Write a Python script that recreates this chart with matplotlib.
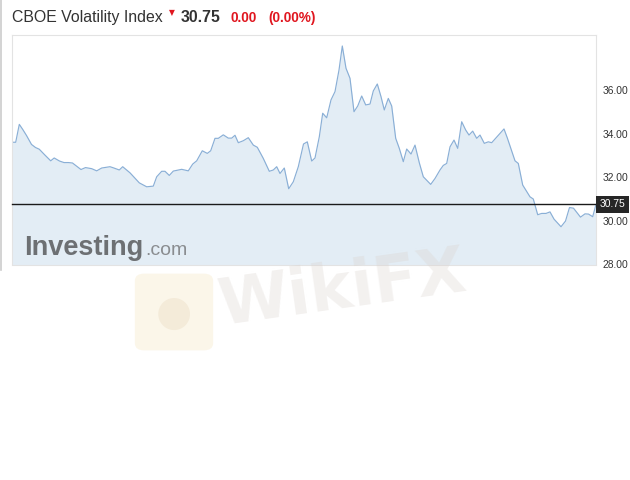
import matplotlib
matplotlib.use("Agg")
import matplotlib.pyplot as plt
import matplotlib.transforms as mtransforms
from matplotlib.patches import FancyBboxPatch

# ---------------- data ----------------
title = "CBOE Volatility Index"
last_price = 30.75
change = "0.00"
change_pct = "(0.00%)"
y_ticks = [28, 30, 32, 34, 36]
y_tick_labels = ["28.00", "30.00", "32.00", "34.00", "36.00"]

# position along the (unlabelled) time axis
pos = [0.0, 3.7, 7.3, 10.7, 14.5, 19.5, 23.5, 27.3, 33.0, 38.7, 42.2, 47.5, 52.0,
       56.5, 60.5, 65.3, 69.0, 73.5, 79.7, 84.7, 89.7, 98.0, 101.3, 107.3, 110.7,
       118.0, 127.3, 134.7, 141.3, 144.7, 149.7, 153.0, 157.3, 161.3, 169.7, 176.3,
       180.7, 184.7, 190.3, 195.3, 198.7, 203.0, 206.3, 211.3, 216.3, 219.7, 223.0,
       226.3, 231.3, 236.3, 241.3, 245.3, 251.3, 257.3, 261.3, 264.7, 268.0, 272.3,
       276.7, 281.3, 286.3, 291.5, 295.3, 299.7, 303.0, 307.3, 310.7, 314.7, 319.0,
       323.0, 327.0, 330.3, 334.0, 338.0, 342.0, 345.7, 349.7, 353.7, 358.0, 361.3,
       365.3, 369.0, 372.3, 376.3, 379.7, 383.7, 387.3, 391.3, 394.7, 399.0, 403.0,
       407.3, 411.3, 418.7, 423.0, 428.0, 431.3, 434.7, 438.0, 442.0, 445.7, 449.7,
       453.7, 457.0, 460.7, 464.7, 468.0, 472.3, 476.3, 479.7, 492.0, 495.3, 499.7,
       503.0, 506.3, 510.7, 518.0, 521.3, 525.7, 529.7, 534.0, 538.0, 542.0, 549.0,
       553.5, 557.5, 561.5, 568.5, 573.0, 576.5, 580.7, 584.0]
vix = [33.60, 33.60, 34.42, 34.19, 33.91, 33.50, 33.36, 33.28, 33.01, 32.75, 32.88,
       32.74, 32.67, 32.67, 32.65, 32.48, 32.35, 32.44, 32.39, 32.29, 32.42, 32.48,
       32.43, 32.33, 32.48, 32.20, 31.74, 31.56, 31.59, 32.02, 32.27, 32.27, 32.08,
       32.28, 32.36, 32.29, 32.60, 32.75, 33.21, 33.09, 33.21, 33.78, 33.78, 33.94,
       33.79, 33.79, 33.92, 33.58, 33.67, 33.81, 33.47, 33.37, 32.86, 32.27, 32.33,
       32.48, 32.17, 32.42, 31.47, 31.79, 32.48, 33.52, 33.62, 32.74, 32.88, 33.85,
       34.93, 34.72, 35.54, 35.92, 36.91, 38.01, 36.99, 36.53, 35.00, 35.26, 35.72,
       35.31, 35.35, 35.95, 36.27, 35.69, 35.08, 35.61, 35.26, 33.78, 33.32, 32.71,
       33.29, 33.06, 33.47, 32.66, 32.02, 31.67, 31.94, 32.33, 32.54, 32.63, 33.39,
       33.70, 33.32, 34.54, 34.16, 33.93, 34.11, 33.78, 33.93, 33.55, 33.62, 33.58,
       34.21, 33.80, 33.20, 32.75, 32.63, 31.64, 31.10, 31.00, 30.28, 30.34, 30.34,
       30.41, 30.08, 29.73, 29.99, 30.61, 30.58, 30.17, 30.32, 30.31, 30.19, 30.75]

# ---------------- figure ----------------
W, H = 630, 480
fig = plt.figure(figsize=(W / 100, H / 100), dpi=100)
fig.patch.set_facecolor("white")


def fx(x):
    return x / W


def fy(y):
    return 1 - y / H


FONT = "Liberation Sans"
ax = fig.add_axes([fx(12), fy(264.5), fx(596) - fx(12), fy(35.3) - fy(264.5)])
ax.set_xlim(0, 584)
ax.set_ylim(28.0, 38.5)

ax.fill_between(pos, vix, 28.0, color="#e3edf5", zorder=1, linewidth=0)
ax.plot(pos, vix, color="#8aafd6", lw=0.85, zorder=2)
ax.axhline(last_price, color="#1a1a1a", lw=1.0, zorder=3, clip_on=False)

for s in ax.spines.values():
    s.set_color("#e3e3e3")
    s.set_linewidth(0.8)

ax.set_xticks([])
ax.yaxis.tick_right()
ax.set_yticks(y_ticks)
ax.set_yticklabels(y_tick_labels, fontfamily=FONT, fontsize=7.4, color="#333333")
ax.tick_params(axis="y", length=0, pad=4.5)

# last price label box
trans = mtransforms.blended_transform_factory(ax.transAxes, ax.transData)
ax.text(1.006, last_price, f"{last_price:.2f}", transform=trans, ha="left", va="center",
        fontfamily=FONT, fontsize=7.4, color="white", zorder=5, clip_on=False,
        bbox=dict(boxstyle="square,pad=0.35", facecolor="#262626", edgecolor="none"))

# ---------------- header ----------------
fig.text(fx(12), fy(22), title, fontfamily=FONT, fontsize=11.4, color="#333333", va="baseline")
fig.text(fx(172), fy(13), "\u25bc", fontfamily="DejaVu Sans", fontsize=5.5, color="#e0161f",
         ha="center", va="center")
fig.text(fx(181), fy(22), f"{last_price:.2f}", fontfamily=FONT, fontsize=11.4,
         fontweight="bold", color="#333333", va="baseline")
fig.text(fx(231), fy(22), change, fontfamily=FONT, fontsize=9.8, fontweight="bold",
         color="#e0161f", va="baseline")
fig.text(fx(268), fy(22), change_pct, fontfamily=FONT, fontsize=9.8, fontweight="bold",
         color="#e0161f", va="baseline")

# page border on the left
fig.add_artist(plt.Line2D([fx(1), fx(1)], [fy(0), fy(270)], color="#cccccc", lw=1.2))

# ---------------- Investing.com logo ----------------
fig.text(fx(24), fy(255), "Investing", fontfamily=FONT, fontsize=19.5, fontweight="bold",
         color="#6d7073", va="baseline", zorder=6)
fig.text(fx(145), fy(255), ".com", fontfamily=FONT, fontsize=14, color="#8a8d90",
         va="baseline", zorder=6)

# ---------------- WikiFX watermark ----------------
fig.add_artist(FancyBboxPatch((fx(138), fy(348)), fx(72), fy(276) - fy(348),
                              boxstyle="round,pad=0.005,rounding_size=0.015",
                              facecolor="#f7e9c8", edgecolor="none", alpha=0.4, zorder=7))
fig.text(fx(174), fy(313), "\u25cf", fontsize=30, color="#efe2cc", alpha=0.55,
         ha="center", va="center", zorder=8)
fig.text(fx(342), fy(290), "WikiFX", fontfamily="DejaVu Sans", fontsize=46,
         fontweight="bold", color="#d9d2cc", alpha=0.3, ha="center", va="center",
         rotation=8, zorder=7)

fig.savefig("out.png", dpi=100)
